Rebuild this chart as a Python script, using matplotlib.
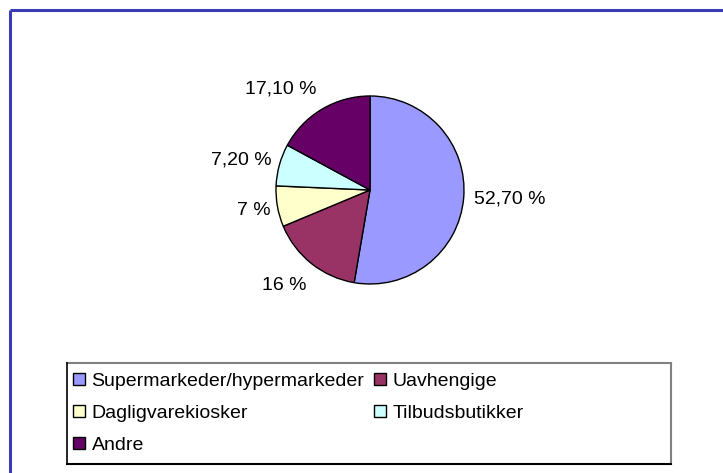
import matplotlib
matplotlib.use("Agg")
import matplotlib.pyplot as plt
from matplotlib.lines import Line2D
from matplotlib.patches import Patch

plt.rcParams['font.family'] = ['Liberation Sans', 'DejaVu Sans']

categories = ["Supermarkeder/hypermarkeder", "Uavhengige", "Dagligvarekiosker",
              "Tilbudsbutikker", "Andre"]
values = [52.7, 16.0, 7.0, 7.2, 17.1]
value_labels = ["52,70 %", "16 %", "7 %", "7,20 %", "17,10 %"]
colors = ["#9999FF", "#993366", "#FFFFCC", "#CCFFFF", "#660066"]

W, H = 723, 473
fig = plt.figure(figsize=(W / 100, H / 100), dpi=100)
fig.patch.set_facecolor("white")

def fx(px):
    return px / W

def fy(py):
    return 1 - py / H

# outer chart frame (top and left visible)
fig.add_artist(Line2D([fx(9.5), fx(9.5)], [fy(10), 0], color="#3A3AB4", lw=2.2,
                      transform=fig.transFigure, solid_capstyle="butt"))
fig.add_artist(Line2D([fx(9.5), 1], [fy(10), fy(10)], color="#3A3AB4", lw=2.2,
                      transform=fig.transFigure, solid_capstyle="butt"))

# pie axes: center (370,190) px, radius 94 px -> limits +-2
cx, cy, R = 370, 190, 94
ax = fig.add_axes([fx(cx - 2 * R), fy(cy + 2 * R), 4 * R / W, 4 * R / H])
wedges, _ = ax.pie(values, colors=colors, startangle=90, counterclock=False,
                   radius=1.0,
                   wedgeprops=dict(edgecolor="black", linewidth=1.0))
ax.set_xlim(-2, 2)
ax.set_ylim(-2, 2)
ax.set_aspect("auto")
ax.axis("off")

# label positions in radius units relative to the pie centre
label_pos = [(1.49, -0.10), (-0.915, -1.02), (-1.234, -0.213),
             (-1.372, 0.319), (-0.947, 1.074)]
for txt, (lx, ly) in zip(value_labels, label_pos):
    ax.text(lx, ly, txt, ha="center", va="center", fontsize=14, color="black")

# legend box
lx0, lx1, ly0, ly1 = 67, 671, 363, 464
fig.add_artist(Line2D([fx(lx0), fx(lx1)], [fy(ly0), fy(ly0)], color="#808080", lw=1.5,
                      transform=fig.transFigure))
fig.add_artist(Line2D([fx(lx1), fx(lx1)], [fy(ly0), fy(ly1)], color="#808080", lw=1.5,
                      transform=fig.transFigure))
fig.add_artist(Line2D([fx(lx0), fx(lx0)], [fy(ly0), fy(ly1)], color="black", lw=1.2,
                      transform=fig.transFigure))
fig.add_artist(Line2D([fx(lx0), fx(lx1)], [fy(ly1), fy(ly1)], color="black", lw=1.5,
                      transform=fig.transFigure))

handles = [Patch(facecolor=c, edgecolor="black", linewidth=1.0) for c in colors]
order = [0, 2, 4, 1, 3]
fig.legend([handles[i] for i in order], [categories[i] for i in order],
           ncol=2, loc="upper left", bbox_to_anchor=(fx(73), fy(373)),
           frameon=False, fontsize=14, handlelength=0.6, handleheight=0.6,
           handletextpad=0.35, columnspacing=0.5, labelspacing=0.76,
           borderpad=0, borderaxespad=0)

fig.savefig("out.png", dpi=100, facecolor="white")
